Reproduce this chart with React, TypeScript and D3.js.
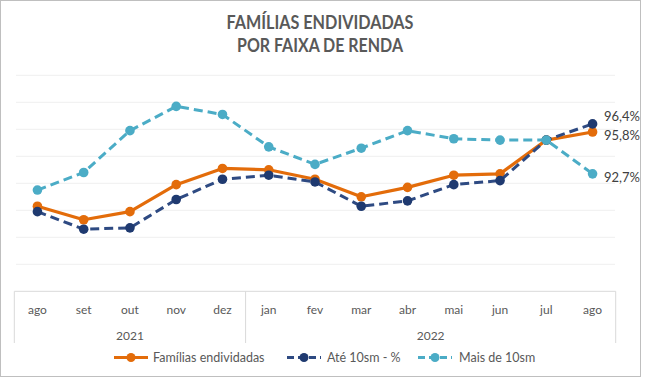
import React from "react";
import * as d3 from "d3";

const months = ["ago","set","out","nov","dez","jan","fev","mar","abr","mai","jun","jul","ago"];
const years = [{ label: "2021", from: 0, to: 4 }, { label: "2022", from: 5, to: 12 }];
const familias = [90.3, 89.3, 89.9, 91.9, 93.1, 93.0, 92.3, 91.0, 91.7, 92.6, 92.7, 95.2, 95.8];
const ate10 = [89.9, 88.6, 88.7, 90.8, 92.3, 92.6, 92.1, 90.3, 90.7, 91.9, 92.2, 95.2, 96.4];
const mais10 = [91.5, 92.8, 95.9, 97.7, 97.1, 94.7, 93.4, 94.6, 95.9, 95.3, 95.2, 95.2, 92.7];
const gridTicks = [86, 88, 90, 92, 94, 96, 98, 100];
const seriesNames = ["Famílias endividadas", "Até 10sm - %", "Mais de 10sm"];

const W = 645, H = 378;
const FONT = "Lato, 'Open Sans', sans-serif";

const series = [
  { name: seriesNames[0], values: familias, color: "#E36C0A", marker: "#E36C0A", dash: null, width: 3.2, labelDy: 4.5 },
  { name: seriesNames[1], values: ate10, color: "#2E4A82", marker: "#1F3A70", dash: "9,5", width: 3, labelDy: -6 },
  { name: seriesNames[2], values: mais10, color: "#4BACC6", marker: "#4BACC6", dash: "9,5", width: 3, labelDy: 5 },
];

export default function App() {
  const x = d3.scaleBand<number>().domain(months.map((_, i) => i)).range([14.3, 615.7]).padding(0);
  const cx = (i: number) => (x(i) as number) + x.bandwidth() / 2;
  const y = d3.scaleLinear().domain([84, 100]).range([291.3, 75.3]);
  const line = d3.line<number>().x((_, i) => cx(i)).y((d) => y(d));

  const legendItems = [
    { s: series[0], lx: 114, tx: 153 },
    { s: series[1], lx: 287, tx: 327 },
    { s: series[2], lx: 418, tx: 459 },
  ];

  return (
    <svg width={W} height={H} style={{ position: "absolute", left: 0, top: 0, background: "#fff" }}>
      <rect x={0.5} y={0.5} width={640} height={376} fill="#fff" stroke="#BFBFBF" strokeWidth={1} />
      <text x={320} y={29} textAnchor="middle" fontFamily={FONT} fontWeight="bold" fontSize={19} fill="#595959" textLength={187} lengthAdjust="spacingAndGlyphs">FAMÍLIAS ENDIVIDADAS</text>
      <text x={320} y={51.5} textAnchor="middle" fontFamily={FONT} fontWeight="bold" fontSize={19} fill="#595959" textLength={166} lengthAdjust="spacingAndGlyphs">POR FAIXA DE RENDA</text>

      {gridTicks.map((t) => (
        <line key={t} x1={16} x2={615} y1={y(t)} y2={y(t)} stroke="#EFEFEF" strokeWidth={1} />
      ))}

      <line x1={14.3} x2={615.7} y1={y(84)} y2={y(84)} stroke="#D9D9D9" strokeWidth={1} />
      {[0, 5, 13].map((b) => {
        const xx = b === 13 ? 615.7 : (x(b) as number);
        return <line key={b} x1={xx} x2={xx} y1={y(84)} y2={343} stroke="#D9D9D9" strokeWidth={1} />;
      })}
      {months.map((m, i) => (
        <text key={i} x={cx(i)} y={314} textAnchor="middle" fontFamily={FONT} fontSize={12} fill="#595959">{m}</text>
      ))}
      {years.map((yr) => (
        <text key={yr.label} x={((x(yr.from) as number) + (x(yr.to) as number) + x.bandwidth()) / 2} y={339.5} textAnchor="middle" fontFamily={FONT} fontSize={12} fill="#595959">{yr.label}</text>
      ))}

      {series.map((s) => (
        <g key={s.name}>
          <path d={line(s.values) || ""} fill="none" stroke={s.color} strokeWidth={s.width} strokeDasharray={s.dash || undefined} strokeLinejoin="round" />
          {s.values.map((v, i) => (
            <circle key={i} cx={cx(i)} cy={y(v)} r={4.8} fill={s.marker} />
          ))}
        </g>
      ))}

      {series.map((s) => {
        const v = s.values[s.values.length - 1];
        return (
          <text key={s.name} x={604} y={y(v) + s.labelDy} dominantBaseline="middle" fontFamily={FONT} fontSize={13} fill="#404040">
            {v.toFixed(1).replace(".", ",") + "%"}
          </text>
        );
      })}

      {legendItems.map(({ s, lx, tx }) => (
        <g key={s.name}>
          <line x1={lx} x2={lx + 34} y1={357.5} y2={357.5} stroke={s.color} strokeWidth={3} strokeDasharray={s.dash ? "7,4" : undefined} />
          <circle cx={lx + 17} cy={357.5} r={4.5} fill={s.marker} />
          <text x={tx} y={361.5} fontFamily={FONT} fontSize={12.5} fill="#595959">{s.name}</text>
        </g>
      ))}
    </svg>
  );
}
